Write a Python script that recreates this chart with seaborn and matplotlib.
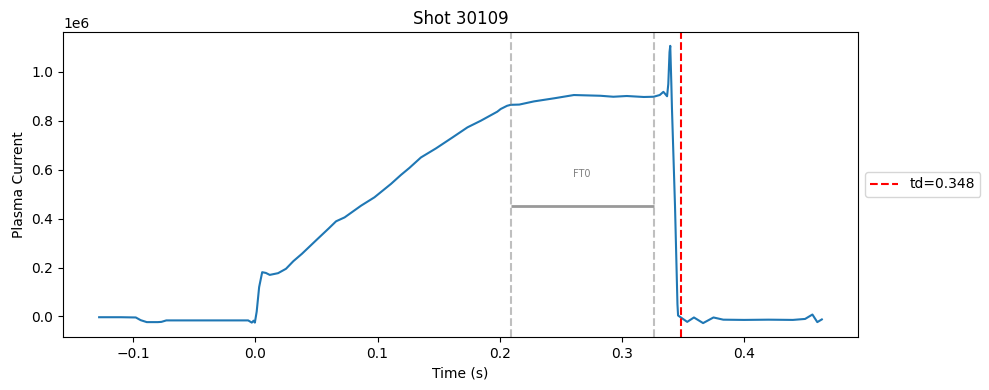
import numpy as np
import pandas as pd
import matplotlib
matplotlib.use("Agg")
import matplotlib.pyplot as plt
import seaborn as sns

SHOT = 30109
TD = 0.348
FT0_START = 0.209
FT0_END = 0.326

# plasma current trace (time in s, current in MA)
time = [
    -0.128, -0.110, -0.098, -0.094, -0.089, -0.080, -0.077, -0.073,
    -0.050, -0.020, -0.006, -0.003, -0.0015, -0.0005, 0.001, 0.003,
    0.0055, 0.0085, 0.0117, 0.0185, 0.025, 0.031, 0.038, 0.050,
    0.060, 0.066, 0.073, 0.0865, 0.0974, 0.111, 0.119, 0.126,
    0.1355, 0.1478, 0.1614, 0.1736, 0.1845, 0.198, 0.2008, 0.206,
    0.209, 0.216, 0.228, 0.245, 0.2607, 0.2824, 0.293, 0.304,
    0.318, 0.326, 0.331, 0.334, 0.337, 0.338, 0.339, 0.3396,
    0.3405, 0.341, 0.3435, 0.3455, 0.346, 0.348, 0.3535, 0.359,
    0.3665, 0.375, 0.383, 0.400, 0.420, 0.440, 0.450, 0.456,
    0.460, 0.4637,
]
current = [
    -0.003, -0.003, -0.004, -0.015, -0.023, -0.023, -0.022, -0.016,
    -0.016, -0.016, -0.016, -0.025, -0.017, -0.025, 0.02, 0.12,
    0.181, 0.178, 0.170, 0.177, 0.195, 0.226, 0.256, 0.313,
    0.360, 0.389, 0.405, 0.453, 0.487, 0.542, 0.578, 0.607,
    0.650, 0.687, 0.732, 0.773, 0.800, 0.837, 0.848, 0.861,
    0.865, 0.866, 0.879, 0.892, 0.905, 0.902, 0.898, 0.901,
    0.897, 0.898, 0.905, 0.918, 0.900, 0.95, 1.08, 1.106,
    0.95, 0.85, 0.45, 0.05, 0.004, -0.003, -0.022, -0.004,
    -0.027, -0.004, -0.013, -0.014, -0.013, -0.014, -0.010, 0.008,
    -0.023, -0.012,
]

df = pd.DataFrame({"time": time, "ip": np.array(current) * 1e6})

fig, ax = plt.subplots(figsize=(9.89, 3.9), dpi=100)
sns.lineplot(data=df, x="time", y="ip", ax=ax, color="C0", linewidth=1.5)

ax.axvline(FT0_START, color="gray", linestyle="--", alpha=0.5)
ax.axvline(FT0_END, color="gray", linestyle="--", alpha=0.5)
ax.hlines(0.45e6, FT0_START, FT0_END, color="gray", alpha=0.8, linewidth=2)
ax.text((FT0_START + FT0_END) / 2, 0.56e6, "FT0", color="gray",
        fontsize=7, ha="center", va="bottom")

ax.axvline(TD, color="red", linestyle="--", label="td=" + str(TD))
ax.legend(loc="center left", bbox_to_anchor=(1, 0.5))

ax.set_title("Shot " + str(SHOT))
ax.set_xlabel("Time (s)")
ax.set_ylabel("Plasma Current")

fig.subplots_adjust(left=0.0637, right=0.8675, top=0.918, bottom=0.136)
plt.savefig("out.png")
